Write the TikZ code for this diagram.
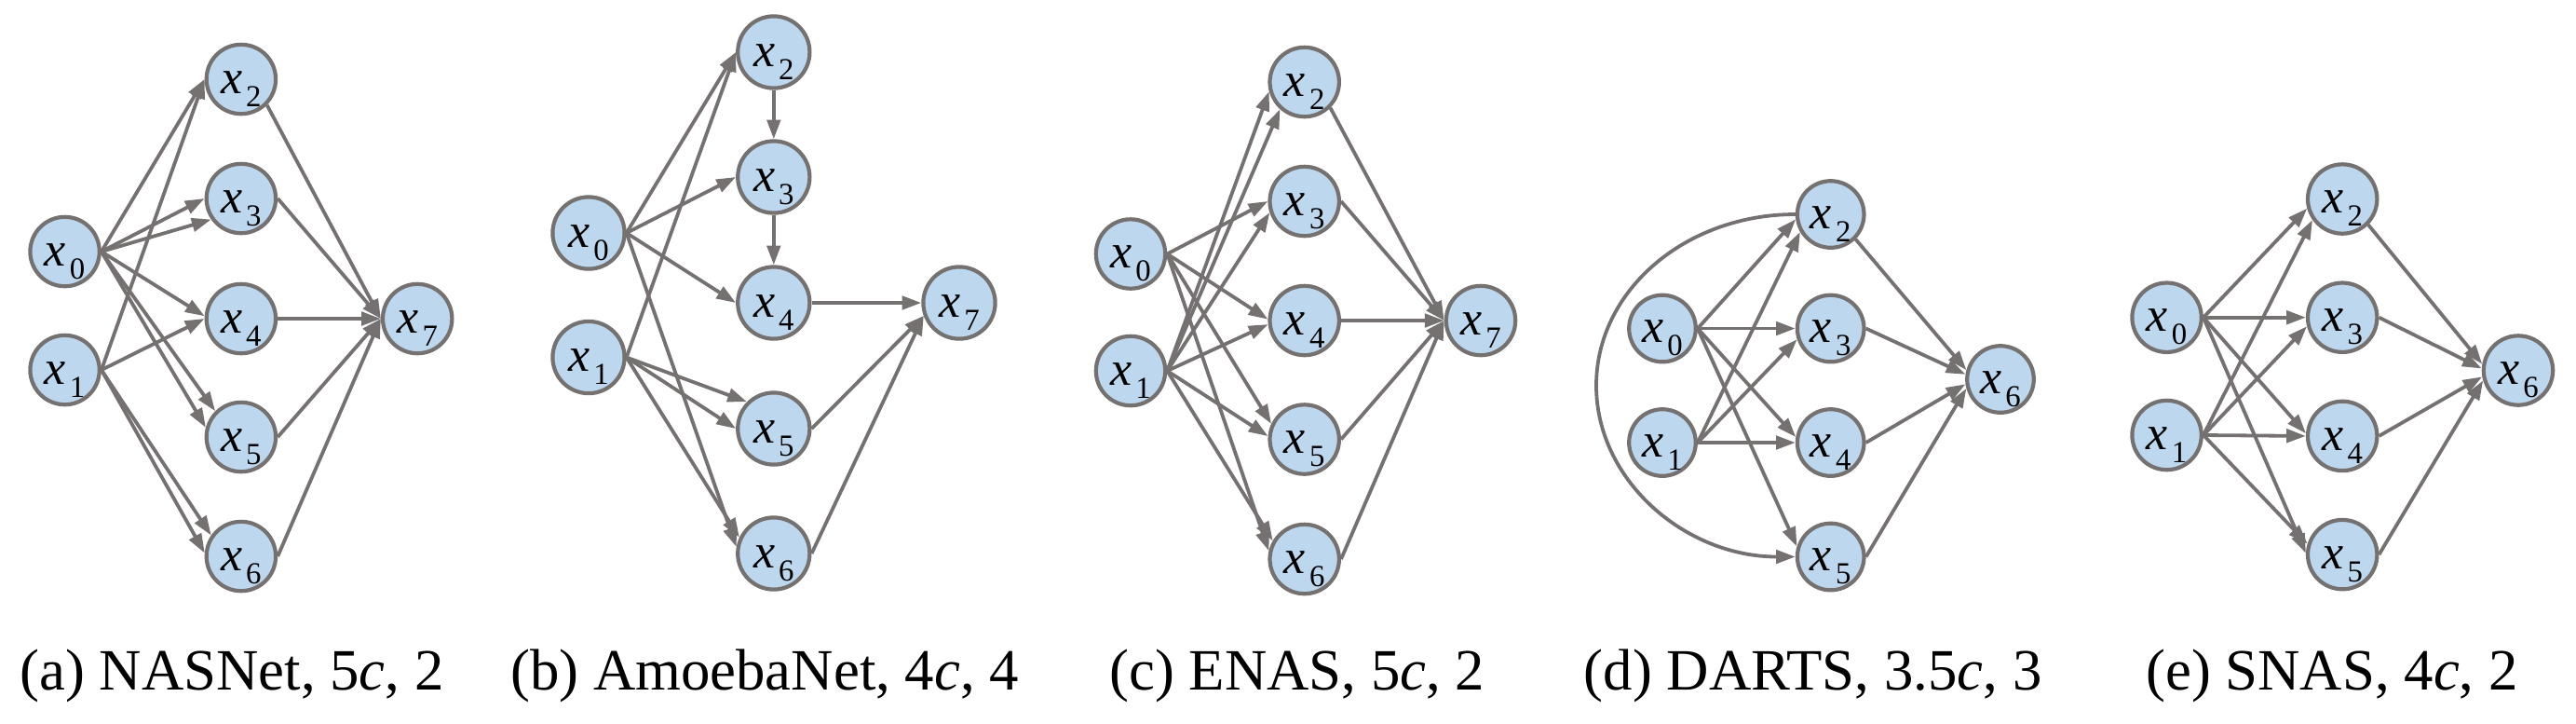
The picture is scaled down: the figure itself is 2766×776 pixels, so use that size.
\documentclass[tikz,border=0pt]{standalone}
\usepackage{fontspec}
\setmainfont{Liberation Serif}
\usetikzlibrary{arrows.meta}
\definecolor{ndblue}{RGB}{189,215,238}
\definecolor{lgray}{RGB}{118,113,113}
\newcommand\xlab[1]{\textit{x}\kern1pt\raisebox{-3.5pt}{\fontsize{8.2}{9}\selectfont#1}}
\begin{document}
\begin{tikzpicture}[x=0.25pt,y=-0.25pt,
  nd/.style={circle, draw=lgray, fill=ndblue, line width=1.05pt, minimum size=#1, inner sep=0pt,
    font=\fontsize{13}{15}\selectfont, text height=7.6pt, text depth=0pt},
  nd/.default=18.5pt,
  arr/.style={draw=lgray, line width=0.95pt, -{Triangle[length=5.2pt,width=3.6pt]}},
  captxt/.style={font=\fontsize{15.7}{18}\selectfont, anchor=base, inner sep=0pt}]
\useasboundingbox (0,0) rectangle (2766,776);

% ---------------- (a) NASNet ----------------
\begin{scope}[every node/.append style={nd=18.6pt}]
\node (a0) at (69.6,270) {\xlab{0}};
\node (a1) at (69.6,397) {\xlab{1}};
\node (a2) at (258.9,85) {\xlab{2}};
\node (a3) at (258.9,213) {\xlab{3}};
\node (a4) at (258.9,342) {\xlab{4}};
\node (a5) at (258.9,469) {\xlab{5}};
\node (a6) at (258.9,597) {\xlab{6}};
\node (a7) at (448.2,342) {\xlab{7}};
\end{scope}
\draw[arr] (a0.east) -- (a2.west);
\draw[arr] (a1.east) -- (a2.west);
\draw[arr] (a0.east) -- (a3.west);
\draw[arr] (a0.east) -- (a3.215);
\draw[arr] (a0.east) -- (a4.176);
\draw[arr] (a1.east) -- (a4.west);
\draw[arr] (a0.east) -- (a5.135);
\draw[arr] (a0.east) -- (a5.165);
\draw[arr] (a1.east) -- (a6.145);
\draw[arr] (a1.east) -- (a6.175);
\draw[arr] (a2.south east) -- (a7.west);
\draw[arr] (a3.east) -- (a7.west);
\draw[arr] (a4.east) -- (a7.west);
\draw[arr] (a5.east) -- (a7.west);
\draw[arr] (a6.east) -- (a7.west);
\node[captxt] (capa) at (249,740) {(a) NASNet, 5\textit{c}, 2};

% ---------------- (b) AmoebaNet ----------------
\begin{scope}[every node/.append style={nd=19.3pt}]
\node (b0) at (632,250) {\xlab{0}};
\node (b1) at (632,383.5) {\xlab{1}};
\node (b2) at (830.8,56) {\xlab{2}};
\node (b3) at (830.8,190) {\xlab{3}};
\node (b4) at (830.8,325) {\xlab{4}};
\node (b5) at (830.8,460) {\xlab{5}};
\node (b6) at (830.8,594) {\xlab{6}};
\node (b7) at (1030,325) {\xlab{7}};
\end{scope}
\draw[arr] (b0.east) -- (b2.west);
\draw[arr] (b1.east) -- (b2.west);
\draw[arr] (b2.south) -- (b3.north);
\draw[arr] (b0.east) -- (b3.west);
\draw[arr] (b3.south) -- (b4.north);
\draw[arr] (b0.east) -- (b4.west);
\draw[arr] (b1.east) -- (b5.135);
\draw[arr] (b1.east) -- (b5.west);
\draw[arr] (b0.east) -- (b6.170);
\draw[arr] (b1.east) -- (b6.155);
\draw[arr] (b4.east) -- (b7.west);
\draw[arr] (b5.east) -- (b7.200);
\draw[arr] (b6.east) -- (b7.200);
\node[captxt] (capb) at (821,740) {(b) AmoebaNet, 4\textit{c}, 4};

% ---------------- (c) ENAS ----------------
\begin{scope}[every node/.append style={nd=18.6pt}]
\node (c0) at (1214,272.5) {\xlab{0}};
\node (c1) at (1214,398) {\xlab{1}};
\node (c2) at (1400.7,88) {\xlab{2}};
\node (c3) at (1400.7,216) {\xlab{3}};
\node (c4) at (1400.7,344) {\xlab{4}};
\node (c5) at (1400.7,471.5) {\xlab{5}};
\node (c6) at (1400.7,600) {\xlab{6}};
\node (c7) at (1590,344) {\xlab{7}};
\end{scope}
\draw[arr] (c1.east) -- (c2.195);
\draw[arr] (c1.east) -- (c2.228);
\draw[arr] (c0.east) -- (c3.west);
\draw[arr] (c1.east) -- (c3.198);
\draw[arr] (c0.east) -- (c4.178);
\draw[arr] (c1.east) -- (c4.186);
\draw[arr] (c0.east) -- (c5.155);
\draw[arr] (c1.east) -- (c5.175);
\draw[arr] (c0.east) -- (c6.167);
\draw[arr] (c1.east) -- (c6.150);
\draw[arr] (c2.south east) -- (c7.west);
\draw[arr] (c3.east) -- (c7.west);
\draw[arr] (c4.east) -- (c7.west);
\draw[arr] (c5.east) -- (c7.west);
\draw[arr] (c6.east) -- (c7.west);
\node[captxt] (capc) at (1392.7,740) {(c) ENAS, 5\textit{c}, 2};

% ---------------- (d) DARTS ----------------
\begin{scope}[every node/.append style={nd=17.9pt}]
\node (d0) at (1785,352.5) {\xlab{0}};
\node (d1) at (1785,475) {\xlab{1}};
\node (d2) at (1965.7,230) {\xlab{2}};
\node (d3) at (1965.7,352.5) {\xlab{3}};
\node (d4) at (1965.7,475) {\xlab{4}};
\node (d5) at (1965.7,597.5) {\xlab{5}};
\node (d6) at (2148,407) {\xlab{6}};
\end{scope}
\coordinate (dl) at (1714,413.75);
\draw[arr] (d0.east) -- (d2.188);
\draw[arr] (d1.east) -- (d2.210);
\draw[arr] (d0.east) -- (d3.west);
\draw[arr] (d1.east) -- (d3.198);
\draw[arr] (d0.east) -- (d4.171);
\draw[arr] (d1.east) -- (d4.west);
\draw[arr] (d0.east) -- (d5.163);
\draw[arr] (d2.west) .. controls +(-118,0) and +(0,-102) .. (dl)
                     .. controls +(0,102) and +(-118,0) .. (d5.west);
\draw[arr] (d2.south east) -- (d6.165);
\draw[arr] (d3.east) -- (d6.172);
\draw[arr] (d4.east) -- (d6.188);
\draw[arr] (d5.east) -- (d6.195);
\node[captxt] (capd) at (1946.6,740) {(d) DARTS, 3.5\textit{c}, 3};

% ---------------- (e) SNAS ----------------
\begin{scope}[every node/.append style={nd=18.6pt}]
\node (e0) at (2326.6,340.7) {\xlab{0}};
\node (e1) at (2326.6,467) {\xlab{1}};
\node (e2) at (2515.2,213.5) {\xlab{2}};
\node (e3) at (2515.2,340.7) {\xlab{3}};
\node (e4) at (2515.2,467.9) {\xlab{4}};
\node (e5) at (2515.2,595.1) {\xlab{5}};
\node (e6) at (2704,397.5) {\xlab{6}};
\end{scope}
\draw[arr] (e0.east) -- (e2.195);
\draw[arr] (e1.east) -- (e2.215);
\draw[arr] (e0.east) -- (e3.west);
\draw[arr] (e1.east) -- (e3.194);
\draw[arr] (e0.east) -- (e4.176);
\draw[arr] (e1.east) -- (e4.west);
\draw[arr] (e0.east) -- (e5.178);
\draw[arr] (e1.east) -- (e5.163);
\draw[arr] (e2.south east) -- (e6.170);
\draw[arr] (e3.east) -- (e6.177);
\draw[arr] (e4.east) -- (e6.190);
\draw[arr] (e5.east) -- (e6.196);
\node[captxt] (cape) at (2504,740) {(e) SNAS, 4\textit{c}, 2};
\end{tikzpicture}
\end{document}
